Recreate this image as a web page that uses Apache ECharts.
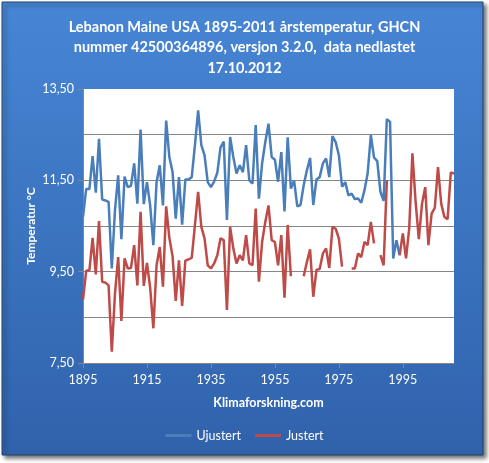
<!DOCTYPE html>
<html><head><meta charset="utf-8">
<script src="https://cdn.jsdelivr.net/npm/echarts@6/dist/echarts.min.js"></script>
<style>html,body{margin:0;padding:0;background:#fff}#c{width:489px;height:463px}</style>
</head><body><div id="c"></div>
<script>
const titleText = "Lebanon Maine USA 1895-2011 årstemperatur, GHCN\nnummer 42500364896, versjon 3.2.0,  data nedlastet\n17.10.2012";
const xName = "Klimaforskning.com";
const yName = "Temperatur °C";
const firstYear = 1895, lastYear = 2011;
const years = [];
for (let y = firstYear; y <= lastYear; y++) years.push(String(y));

const ujustert = [
 10.70, 11.31, 11.31, 12.03, 11.23, 12.41, 11.08, 11.06, 11.03, 9.57,
 10.85, 11.61, 10.21, 11.58, 11.35, 11.38, 11.87, 10.99, 12.61, 10.98,
 11.46, 10.95, 10.08, 11.46, 11.83, 10.95, 12.81, 12.01, 11.68, 10.66,
 11.57, 10.53, 11.52, 11.52, 11.57, 12.27, 13.03, 12.27, 12.05, 11.46,
 11.35, 11.47, 11.67, 12.22, 12.35, 10.63, 12.45, 12.01, 11.65, 11.83,
 11.68, 12.27, 11.50, 11.43, 12.71, 11.10, 11.87, 12.34, 12.74, 12.01,
 11.95, 11.47, 12.12, 10.82, 12.44, 11.32, 11.50, 10.93, 10.96, 11.39,
 11.72, 11.99, 10.96, 11.52, 11.57, 11.87, 11.98, 11.57, 12.47, 12.34,
 12.05, 11.36, 11.46, 11.17, 11.21, 11.09, 11.10, 11.01, 11.28, 11.65,
 12.49, 12.00, 11.92, 11.25, 11.05, 12.84, 12.78, 9.79, 10.19, 9.86
];
const justert = [
 8.89, 9.52, 9.53, 10.24, 9.44, 10.61, 9.28, 9.26, 9.20, 7.75,
 9.02, 9.82, 8.42, 9.79, 9.57, 9.58, 10.08, 9.20, 10.81, 9.19,
 9.69, 9.15, 8.26, 9.64, 10.04, 9.17, 10.93, 10.24, 9.84, 8.86,
 9.75, 8.75, 9.74, 9.77, 9.80, 10.52, 11.25, 10.48, 10.23, 9.64,
 9.57, 9.68, 9.86, 10.23, 10.19, 8.66, 10.48, 10.01, 9.68, 9.86,
 9.75, 10.30, 9.68, 9.64, 10.88, 9.28, 10.15, 10.59, 10.95, 10.19,
 10.15, 9.64, 10.30, 8.93, 10.52, 9.40, null, null, null, 9.40,
 9.71, 9.99, 8.95, 9.54, 9.56, 9.90, 10.01, 9.58, 10.48, 10.44,
 10.23, 9.61, null, null, 9.57, 9.57, 9.90, 9.82, 10.15, 10.08,
 10.59, 10.12, null, 9.86, 9.64, 11.50, null, null, null, 9.86,
 10.34, 9.79, 10.45, 12.09, 11.03, 10.21, 10.99, 11.35, 10.08, 10.77,
 10.90, 11.79, 10.99, 10.70, 10.65, 11.67, 11.65
];
const seriesNames = ["Ujustert", "Justert"];
const seriesColors = ["#4a7ebb", "#be4b48"];

const chart = echarts.init(document.getElementById('c'), null, {renderer: 'canvas'});
const FONT = 'Lato, "Open Sans", sans-serif';
const gray = '#868686';
chart.setOption({
  backgroundColor: '#ffffff',
  animation: false,
  graphic: [{
    type: 'rect', z: -10,
    shape: {x: 2, y: 2, width: 481, height: 453},
    style: {
      fill: new echarts.graphic.LinearGradient(0, 0, 0, 1, [
        {offset: 0, color: '#4786d5'}, {offset: 1, color: '#3062ab'}
      ]),
      stroke: '#23446f', lineWidth: 1,
      shadowBlur: 4, shadowOffsetX: 3, shadowOffsetY: 3, shadowColor: 'rgba(0,0,0,0.55)'
    }
  }],
  title: {
    text: titleText, left: 'center', top: 12,
    textStyle: {color: '#fff', fontFamily: FONT, fontWeight: 'bold', fontSize: 14.5, lineHeight: 20.5}
  },
  legend: {
    data: seriesNames, bottom: 16, left: 'center', icon: 'rect', itemWidth: 26, itemHeight: 3, itemGap: 14,
    textStyle: {color: '#fff', fontFamily: FONT, fontSize: 12.5}
  },
  grid: {left: 83, right: 35, top: 89, bottom: 100, show: true, backgroundColor: '#fff', borderWidth: 0},
  xAxis: {
    type: 'category', data: years, boundaryGap: false,
    name: xName, nameLocation: 'middle', nameGap: 33,
    nameTextStyle: {color: '#fff', fontFamily: FONT, fontWeight: 'bold', fontSize: 12.5},
    axisLine: {lineStyle: {color: gray, width: 1}},
    axisTick: {interval: (i) => i % 20 === 0, length: 5, lineStyle: {color: gray}},
    axisLabel: {interval: (i) => i % 20 === 0, margin: 10, color: '#fff', fontFamily: FONT, fontSize: 12.5},
    splitLine: {show: false}
  },
  yAxis: {
    type: 'value', min: 7.5, max: 13.5, interval: 2,
    name: yName, nameLocation: 'middle', nameGap: 46, nameRotate: 90, nameMoveOverlap: false,
    nameTextStyle: {color: '#fff', fontFamily: FONT, fontWeight: 'bold', fontSize: 12},
    axisLine: {show: true, lineStyle: {color: gray, width: 1}},
    axisTick: {show: true, length: 5, lineStyle: {color: gray}},
    axisLabel: {margin: 9, color: '#fff', fontFamily: FONT, fontSize: 12.5,
      formatter: (v) => v.toFixed(2).replace('.', ',')},
    splitLine: {show: true, showMaxLine: false, lineStyle: {color: gray, width: 1}},
    minorTick: {show: false, splitNumber: 2},
    minorSplitLine: {show: true, lineStyle: {color: gray, width: 1}}
  },
  series: [
    {name: seriesNames[0], type: 'line', data: ujustert, symbol: 'none', connectNulls: false,
     lineStyle: {color: seriesColors[0], width: 2.5}, itemStyle: {color: seriesColors[0]}},
    {name: seriesNames[1], type: 'line', data: justert, symbol: 'none', connectNulls: false,
     lineStyle: {color: seriesColors[1], width: 2.5}, itemStyle: {color: seriesColors[1]}}
  ]
});
</script></body></html>
